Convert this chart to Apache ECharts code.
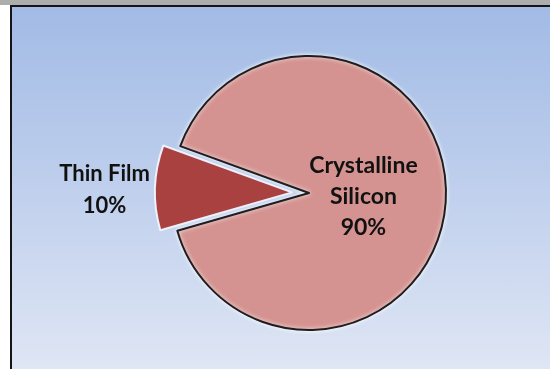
<!DOCTYPE html>
<html>
<head>
<meta charset="utf-8">
<script src="https://cdn.jsdelivr.net/npm/echarts@6/dist/echarts.min.js"></script>
<style>
  html, body { margin: 0; padding: 0; width: 550px; height: 369px; overflow: hidden; background: #ffffff; }
  #topbar { position: absolute; left: 0; top: 0; width: 550px; height: 5px; background: #adadad; }
  #panel {
    position: absolute; left: 10px; top: 5px; width: 540px; height: 364px;
    box-sizing: border-box;
    border-left: 2px solid #151515; border-top: 2px solid #151515;
    background: linear-gradient(to bottom, #a2bbe5 0%, #bccdec 45%, #dfe6f4 100%);
  }
  #chart { position: absolute; left: 0; top: 0; width: 550px; height: 369px; }
</style>
</head>
<body>
<div id="topbar"></div>
<div id="panel"></div>
<div id="chart"></div>
<script>
// Market share by solar cell technology
const categories = ['Crystalline\nSilicon', 'Thin Film'];
const shares = [90, 10];
const sliceColors = ['#d49391', '#a8413f'];

// label nudges relative to the default inside position
const labelShift = [[-17, 1], [-116, 0]];

const chart = echarts.init(document.getElementById('chart'), null, { renderer: 'canvas' });

const data = categories.map((name, i) => ({
  name: name,
  value: shares[i],
  selected: i === 1,
  itemStyle: i === 0
    ? { color: sliceColors[i], borderColor: '#1e1e1e', borderWidth: 2,
        shadowColor: 'rgba(255,255,255,0.9)', shadowBlur: 4 }
    : { color: sliceColors[i], borderColor: 'rgba(240,246,255,0.95)', borderWidth: 2 },
  label: i === 1 ? { fontSize: 22, lineHeight: 32 } : {}
}));

chart.setOption({
  backgroundColor: 'transparent',
  animation: false,
  series: [{
    type: 'pie',
    center: [309, 193],
    radius: 137,
    startAngle: 160,
    clockwise: true,
    selectedMode: 'single',
    selectedOffset: 17,
    silent: true,
    emphasis: { disabled: true },
    label: {
      show: true,
      position: 'inside',
      formatter: p => p.name + '\n' + p.value + '%',
      fontFamily: 'Lato',
      fontWeight: 'bold',
      fontSize: 23,
      lineHeight: 31,
      color: '#111111',
      align: 'center'
    },
    labelLine: { show: false },
    labelLayout: p => ({ dx: labelShift[p.dataIndex][0], dy: labelShift[p.dataIndex][1] }),
    data: data
  }]
});
</script>
</body>
</html>
